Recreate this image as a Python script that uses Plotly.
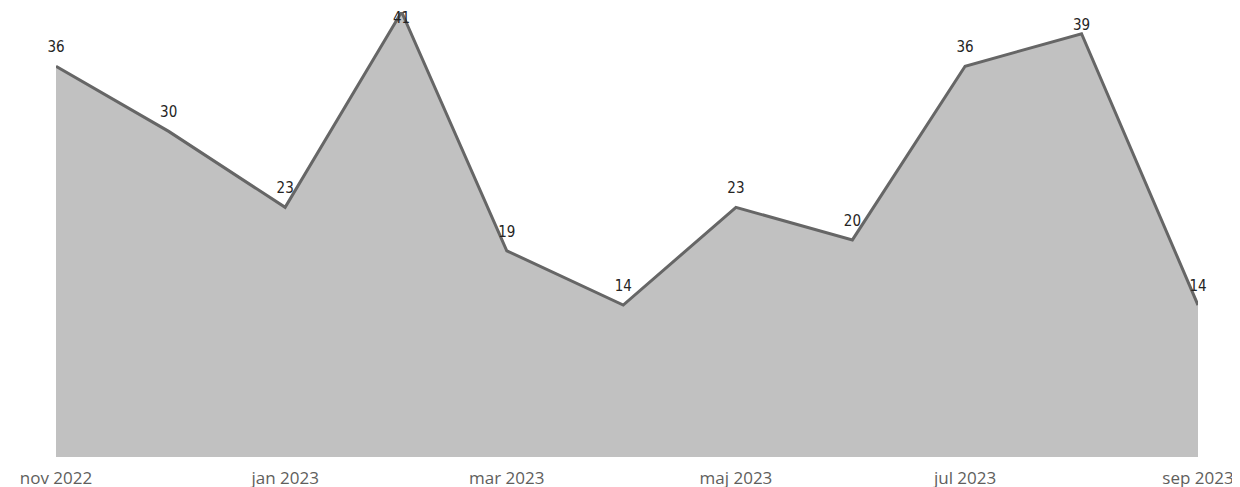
import plotly.graph_objects as go

months = ["2022-11-01", "2022-12-01", "2023-01-01", "2023-02-01", "2023-03-01", "2023-04-01",
          "2023-05-01", "2023-06-01", "2023-07-01", "2023-08-01", "2023-09-01"]
values = [36, 30, 23, 41, 19, 14, 23, 20, 36, 39, 14]
tick_dates = ["2022-11-01", "2023-01-01", "2023-03-01", "2023-05-01", "2023-07-01", "2023-09-01"]
tick_labels = ["nov 2022", "jan 2023", "mar 2023", "maj 2023", "jul 2023", "sep 2023"]

vmax = max(values)
# labels near the top of the plot are pushed down, as the original tool does
positions = ["bottom center" if v == vmax else "top center" for v in values]
msizes = [0 if v >= vmax - 2 else 15 for v in values]

fig = go.Figure()
fig.add_trace(go.Scatter(
    x=months, y=values, mode="lines+markers+text",
    fill="tozeroy", fillcolor="#C1C1C1",
    line=dict(color="#666666", width=3),
    marker=dict(size=msizes, color="rgba(0,0,0,0)", line=dict(width=0)),
    text=[str(v) for v in values], textposition=positions,
    textfont=dict(family="DejaVu Sans Condensed, Roboto", size=15, color="#252423"),
    cliponaxis=False, hoverinfo="skip",
))
fig.update_layout(
    width=1240, height=487,
    margin=dict(l=48, r=50, t=4, b=38),
    paper_bgcolor="white", plot_bgcolor="white",
    showlegend=False,
    xaxis=dict(type="date", range=[months[0], months[-1]], tickvals=tick_dates, ticktext=tick_labels,
               showgrid=False, zeroline=False, showline=False, ticks="",
               ticklabelstandoff=9,
               tickfont=dict(family="Open Sans, Noto Sans", size=17, color="#605E5C")),
    yaxis=dict(range=[0, vmax], visible=False, showgrid=False, zeroline=False),
)
fig.write_html("out.html")
